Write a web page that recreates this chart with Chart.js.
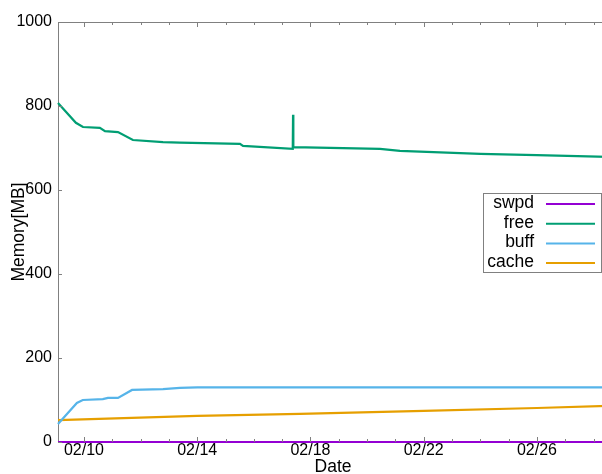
<!DOCTYPE html>
<html>
<head>
<meta charset="utf-8">
<script src="https://cdn.jsdelivr.net/npm/chart.js@4"></script>
<style>
  html, body { margin: 0; padding: 0; overflow: hidden; background: #fff; }
  #wrap { width: 610px; height: 480px; }
</style>
</head>
<body>
<div id="wrap"><canvas id="chart" width="610" height="480"></canvas></div>
<script>
// data (times are 2015, UTC)
const swpdTimes = ['02-09T02:00', '02-28T12:00'];
const swpdValues = [0, 0];

const freeTimes = ['02-09T02:00', '02-09T17:10', '02-09T23:10', '02-10T13:30', '02-10T17:50',
  '02-11T04:50', '02-11T17:30', '02-12T19:00', '02-13T09:20', '02-15T12:15', '02-15T14:50',
  '02-17T09:00', '02-17T09:15', '02-17T09:30', '02-20T11:00', '02-21T03:50', '02-24T00:00',
  '02-26T00:00', '02-28T12:00'];
const freeValues = [807, 760, 750, 748, 740, 738, 719, 714, 713, 710, 705, 698, 779, 702, 698,
  693, 686, 683, 679];

const buffTimes = ['02-09T02:00', '02-09T18:00', '02-09T23:00', '02-10T16:00', '02-10T20:20',
  '02-11T04:50', '02-11T16:45', '02-12T19:00', '02-13T09:20', '02-14T00:00', '02-28T12:00'];
const buffValues = [43, 93, 100, 102, 105, 105, 124, 126, 129, 130, 130];

const cacheTimes = ['02-09T02:00', '02-14T00:00', '02-17T15:00', '02-22T00:00', '02-26T00:00', '02-28T12:00'];
const cacheValues = [52, 62, 67, 74, 81, 86];

const xLabelDays = ['02-10', '02-14', '02-18', '02-22', '02-26'];
const xMinorDays = ['02-10', '02-11', '02-12', '02-13', '02-14', '02-15', '02-16', '02-17', '02-18',
  '02-19', '02-20', '02-21', '02-22', '02-23', '02-24', '02-25', '02-26', '02-27', '02-28'];
const yTicks = [0, 200, 400, 600, 800, 1000];

const xStart = '02-09T02:00';
const xEnd = '02-28T12:14';

const FONT = "'Liberation Sans', Arial, sans-serif";
const GRAY = '#808080';

function toMs(s) {
  return Date.parse('2015-' + (s.length === 5 ? s + 'T00:00' : s) + 'Z');
}
function pts(times, values) {
  return times.map((t, i) => ({ x: toMs(t), y: values[i] }));
}
function fmtDay(ms) {
  const d = new Date(ms);
  const mm = String(d.getUTCMonth() + 1).padStart(2, '0');
  const dd = String(d.getUTCDate()).padStart(2, '0');
  return mm + '/' + dd;
}

// gnuplot-like frame: top border, inward ticks, boxed legend
const frame = {
  id: 'frame',
  afterDraw(chart) {
    const { ctx, chartArea: a, scales: { x, y } } = chart;
    ctx.save();
    ctx.strokeStyle = GRAY;
    ctx.lineWidth = 1;
    ctx.beginPath();
    ctx.moveTo(a.left, a.top + 0.5);
    ctx.lineTo(a.right, a.top + 0.5);
    ctx.stroke();

    ctx.beginPath();
    xMinorDays.forEach((d) => {
      const px = Math.round(x.getPixelForValue(toMs(d))) + 0.5;
      const len = xLabelDays.includes(d) ? 5 : 3;
      ctx.moveTo(px, a.top);
      ctx.lineTo(px, a.top + len);
      ctx.moveTo(px, a.bottom);
      ctx.lineTo(px, a.bottom - len);
    });
    yTicks.forEach((v) => {
      const py = Math.round(y.getPixelForValue(v)) + 0.5;
      ctx.moveTo(a.left, py);
      ctx.lineTo(a.left + 4, py);
    });
    ctx.stroke();

    // legend
    const bx = 483, by = 193, bw = 118, bh = 79;
    ctx.fillStyle = '#fff';
    ctx.fillRect(bx, by, bw, bh);
    ctx.strokeStyle = GRAY;
    ctx.strokeRect(bx + 0.5, by + 0.5, bw, bh);
    ctx.font = '17.5px ' + FONT;
    ctx.textAlign = 'right';
    ctx.textBaseline = 'middle';
    chart.data.datasets.forEach((ds, i) => {
      const ry = 203 + i * 19.7;
      ctx.fillStyle = '#000';
      ctx.fillText(ds.label, 534, ry);
      ctx.strokeStyle = ds.borderColor;
      ctx.lineWidth = 2;
      ctx.beginPath();
      ctx.moveTo(546, ry + 1);
      ctx.lineTo(595, ry + 1);
      ctx.stroke();
    });
    ctx.restore();
  }
};

const line = (label, color, data) => ({
  label, data, borderColor: color, backgroundColor: color,
  borderWidth: 2.2, pointRadius: 0, tension: 0, clip: false
});

new Chart(document.getElementById('chart'), {
  type: 'line',
  data: {
    datasets: [
      line('swpd', '#9400d3', pts(swpdTimes, swpdValues)),
      line('free', '#009e73', pts(freeTimes, freeValues)),
      line('buff', '#56b4e9', pts(buffTimes, buffValues)),
      line('cache', '#e69f00', pts(cacheTimes, cacheValues))
    ]
  },
  options: {
    responsive: false,
    animation: false,
    devicePixelRatio: 1,
    layout: { padding: { top: 22, right: 2, left: 0, bottom: 0 } },
    plugins: { legend: { display: false }, tooltip: { enabled: false } },
    scales: {
      x: {
        type: 'linear',
        min: toMs(xStart),
        max: toMs(xEnd),
        afterBuildTicks: (scale) => { scale.ticks = xLabelDays.map((d) => ({ value: toMs(d) })); },
        afterFit: (scale) => { scale.height = 38; },
        grid: { display: false, drawTicks: false },
        border: { display: true, color: GRAY, width: 1 },
        ticks: {
          autoSkip: false, maxRotation: 0, padding: 0, color: '#000',
          font: { family: FONT, size: 16, lineHeight: 1.1 },
          callback: (v) => fmtDay(v)
        },
        title: {
          display: true, text: 'Date', color: '#000',
          font: { family: FONT, size: 17.5, lineHeight: 1 },
          padding: { top: 0, bottom: 4 }
        }
      },
      y: {
        min: 0,
        max: 1000,
        afterBuildTicks: (scale) => { scale.ticks = yTicks.map((v) => ({ value: v })); },
        afterFit: (scale) => { scale.width = 58; },
        grid: { display: false, drawTicks: false },
        border: { display: true, color: GRAY, width: 1 },
        ticks: {
          padding: 6, color: '#000', font: { family: FONT, size: 16 },
          callback: (v) => String(v)
        },
        title: {
          display: true, text: 'Memory[MB]', color: '#000',
          font: { family: FONT, size: 17.5, lineHeight: 1 },
          padding: { top: 10, bottom: 0 }
        }
      }
    }
  },
  plugins: [frame]
});
</script>
</body>
</html>
